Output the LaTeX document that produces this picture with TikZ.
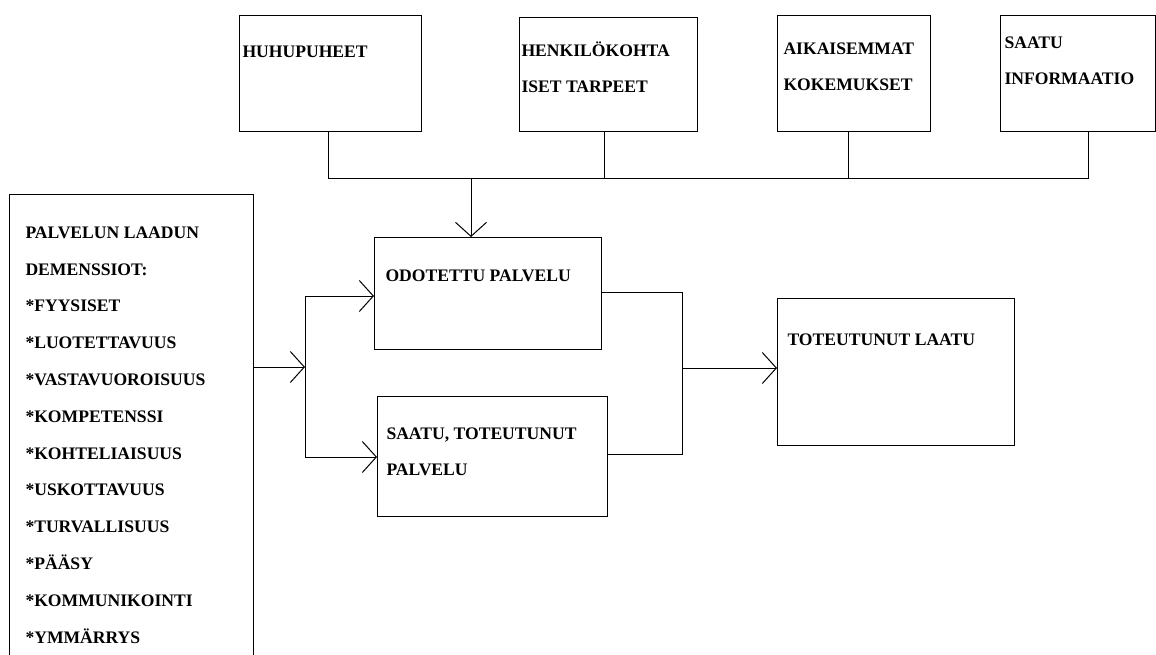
\documentclass[tikz,border=0pt]{standalone}
\usepackage{fontspec}
\setmainfont{Liberation Serif}
\usetikzlibrary{arrows.meta}

\tikzset{
	box/.style={draw, inner sep=0pt, anchor=north west},
	lbl/.style={anchor=base west, inner sep=0pt, align=left,
		font=\bfseries\fontsize{17.6}{36}\selectfont},
	arr/.style={-{Straight Barb[length=14pt, width=31pt, line width=1pt]}},
}

\begin{document}
\begin{tikzpicture}[x=1pt, y=-1pt, line width=1pt]
	\clip (0,0) rectangle (1156,654);
	% Top row of boxes.
	\node[box, minimum width=182pt, minimum height=116pt] (huhu) at (239,15) {};
	\node[box, minimum width=178pt, minimum height=114pt] (tarpeet) at (519,17) {};
	\node[box, minimum width=153pt, minimum height=116pt] (kokem) at (777,15) {};
	\node[box, minimum width=155pt, minimum height=116pt] (info) at (1000,15) {};
	% (base of a text node = base of its last line)
	\node[lbl] (huhuT) at (242,57) {HUHUPUHEET};
	\node[lbl] (tarpeetT) at (521,92) {HENKILÖKOHTA\\ISET TARPEET};
	\node[lbl] (kokemT) at (783,90) {AIKAISEMMAT\\KOKEMUKSET};
	\node[lbl] (infoT) at (1004,84) {SAATU\\INFORMAATIO};
	% Middle boxes.
	\node[box, minimum width=227pt, minimum height=112pt] (odot) at (374,237) {};
	\node[box, minimum width=230pt, minimum height=120pt] (saatu) at (377,396) {};
	\node[box, minimum width=237pt, minimum height=147pt] (laatu) at (777,298) {};
	\node[lbl] (odotT) at (385,281) {ODOTETTU PALVELU};
	\node[lbl] (saatuT) at (386,475) {SAATU, TOTEUTUNUT\\PALVELU};
	\node[lbl] (laatuT) at (787,345) {TOTEUTUNUT LAATU};
	% Dimensions box (open at the bottom).
	\node[box, minimum width=244pt, minimum height=480pt] (dim) at (9,194) {};
	\node[lbl, font=\bfseries\fontsize{17.6}{36.8}\selectfont] (dimT) at (25,643)
		{PALVELUN LAADUN\\DEMENSSIOT:\\*FYYSISET\\*LUOTETTAVUUS\\*VASTAVUOROISUUS\\
		*KOMPETENSSI\\*KOHTELIAISUUS\\*USKOTTAVUUS\\*TURVALLISUUS\\*PÄÄSY\\
		*KOMMUNIKOINTI\\*YMMÄRRYS};
	% Bus from the top boxes.
	\coordinate (b0) at (471,178);
	\coordinate (b1) at (328,178);
	\coordinate (b2) at (604,178);
	\coordinate (b3) at (848,178);
	\coordinate (b4) at (1088,178);
	\draw (b1 |- huhu.south) -- (b1) -- (b4) -- (b4 |- info.south);
	\draw (b2 |- tarpeet.south) -- (b2);
	\draw (b3 |- kokem.south) -- (b3);
	\draw[arr] (b0) -- (b0 |- odot.north);
	% Split to the two services.
	\coordinate (split) at (305,367);
	\coordinate (s1) at (305,296);
	\coordinate (s2) at (305,457);
	\draw[arr] (dim.east |- split) -- (split);
	\draw (s1) -- (s2);
	\draw[arr] (s1) -- (s1 -| odot.west);
	\draw[arr] (s2) -- (s2 -| saatu.west);
	% Merge to the quality.
	\coordinate (m0) at (682,368);
	\coordinate (m1) at (682,292);
	\coordinate (m2) at (682,454);
	\draw (odot.east |- m1) -- (m1) -- (m2) -- (saatu.east |- m2);
	\draw[arr] (m0) -- (m0 -| laatu.west);
\end{tikzpicture}
\end{document}
